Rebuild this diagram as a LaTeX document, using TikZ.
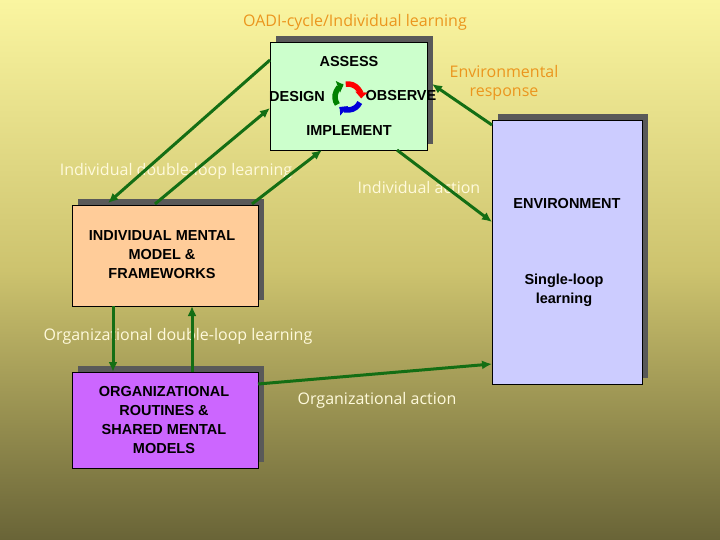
\documentclass[tikz,border=0pt]{standalone}
\usepackage{fontspec}
\setmainfont{Liberation Sans}
\newfontfamily\comic{Open Sans}
\usetikzlibrary{arrows.meta}
\definecolor{bgtop}{RGB}{250,245,160}
\definecolor{bgmid}{RGB}{205,195,110}
\definecolor{bgbot}{RGB}{105,100,55}
\definecolor{darr}{RGB}{20,110,20}
\definecolor{orangetxt}{RGB}{235,150,30}
\definecolor{creamtxt}{RGB}{255,250,220}
\tikzset{
  box/.style={draw=black,thin,align=center,font=\bfseries\fontsize{14.5}{19}\selectfont,inner sep=2pt},
  conn/.style={draw=darr,line width=3pt,-{Latex[length=10pt,width=9pt]}},
  lab/.style={font=\comic\fontsize{16}{18}\selectfont,text=creamtxt},
  olab/.style={font=\comic\fontsize{16}{19}\selectfont,text=orangetxt,align=center},
}
\begin{document}
\begin{tikzpicture}[x=1pt,y=-1pt]
\useasboundingbox (0,0) rectangle (720,540);
\shade[top color=bgtop,bottom color=bgbot,middle color=bgmid] (0,0) rectangle (720,540);
% shadows
\fill[gray!70!black] (276,36) rectangle (433,144);
\fill[gray!70!black] (78,199) rectangle (264,300);
\fill[gray!70!black] (78,366) rectangle (264,462);
\fill[gray!70!black] (498,114) rectangle (648,378);
% boxes
\node[box,fill={rgb,255:red,204;green,255;blue,204},minimum width=157pt,minimum height=108pt,anchor=north west] (oadi) at (270,42) {};
\node[box,fill={rgb,255:red,255;green,204;blue,153},minimum width=186pt,minimum height=101pt,anchor=north west] (imm) at (72,205) {};
\node[box,fill={rgb,255:red,204;green,102;blue,255},minimum width=186pt,minimum height=96pt,anchor=north west] (org) at (72,372) {};
\node[box,fill={rgb,255:red,204;green,204;blue,255},minimum width=150pt,minimum height=264pt,anchor=north west] (env) at (492,120) {};
% texts in boxes
\node[box,draw=none] (tassess) at (349,62) {ASSESS};
\node[box,draw=none] (tdesign) at (297,97) {DESIGN};
\node[box,draw=none] (tobserve) at (401,96) {OBSERVE};
\node[box,draw=none] (timpl) at (349,131) {IMPLEMENT};
\node[box,draw=none] (timm) at (162,255) {INDIVIDUAL MENTAL\\MODEL \&\\FRAMEWORKS};
\node[box,draw=none] (torg) at (164,420) {ORGANIZATIONAL\\ROUTINES \&\\SHARED MENTAL\\MODELS};
\node[box,draw=none] (tenv) at (567,204) {ENVIRONMENT};
\node[box,draw=none] (tsl) at (564,290) {Single-loop\\learning};
% cycle icon
\coordinate (cyc) at (348,97);
\begin{scope}[shift={(cyc)},y=1pt,line width=5.5pt]
\draw[red,-{Triangle[length=6pt,width=12pt]}] (100:13) arc[start angle=100,end angle=-5,radius=13];
\draw[blue!85!black,-{Triangle[length=6pt,width=12pt]}] (-25:13) arc[start angle=-25,end angle=-130,radius=13];
\draw[green!50!black,-{Triangle[length=6pt,width=12pt]}] (-145:13) arc[start angle=-145,end angle=-250,radius=13];
\end{scope}
% labels
\node[olab] (title) at (355,22) {OADI-cycle/Individual learning};
\node[olab] (envresp) at (504,83) {Environmental\\response};
\node[lab] (idl) at (176,171) {Individual double-loop learning};
\node[lab] (ia) at (419,188) {Individual action};
\node[lab] (odl) at (178,336) {Organizational double-loop learning};
\node[lab] (oa) at (377,400) {Organizational action};
% connectors
\coordinate (a1s) at (270,60); \coordinate (a1e) at (108,203);
\draw[conn] (a1s) -- (a1e);
\coordinate (a2s) at (155,204); \coordinate (a2e) at (270,108);
\draw[conn] (a2s) -- (a2e);
\coordinate (a3s) at (252,204); \coordinate (a3e) at (322,150);
\draw[conn] (a3s) -- (a3e);
\coordinate (a4s) at (397,150); \coordinate (a4e) at (492,222);
\draw[conn] (a4s) -- (a4e);
\coordinate (a5s) at (492,125); \coordinate (a5e) at (432,84);
\draw[conn] (a5s) -- (a5e);
\coordinate (a6s) at (113,306); \coordinate (a6e) at (113,372);
\draw[conn] (a6s) -- (a6e);
\coordinate (a7s) at (192,372); \coordinate (a7e) at (192,306);
\draw[conn] (a7s) -- (a7e);
\coordinate (a8s) at (258,384); \coordinate (a8e) at (492,364);
\draw[conn] (a8s) -- (a8e);
\end{tikzpicture}
\end{document}
